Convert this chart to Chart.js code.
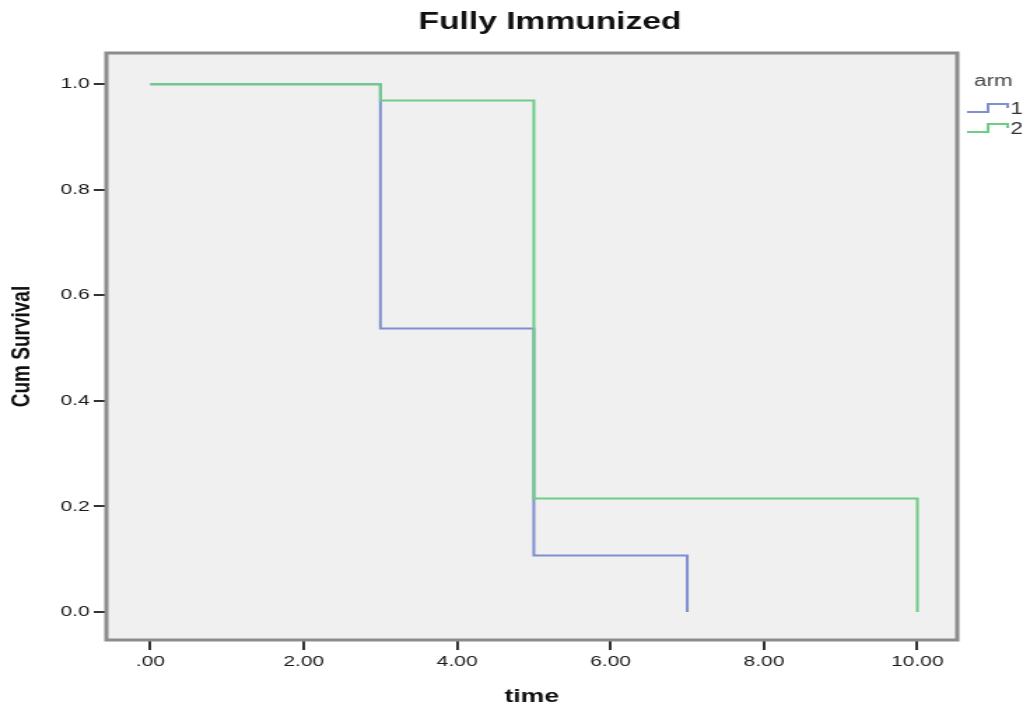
<!DOCTYPE html>
<html>
<head>
<meta charset="utf-8">
<script src="https://cdn.jsdelivr.net/npm/chart.js@4"></script>
<style>
  html, body { margin: 0; padding: 0; background: #fff; }
  /* the source picture is stretched sideways, so draw narrow and stretch */
  #canvas { display: block; width: 1030px; height: 710px; }
</style>
</head>
<body>
<canvas id="canvas" width="736" height="710" style="width:1030px;height:710px"></canvas>
<script>
const arm1Time = [0, 3, 5, 7];
const arm1Surv = [1.0, 0.537, 0.107, 0.0];
const arm2Time = [0, 3, 5, 10];
const arm2Surv = [1.0, 0.969, 0.215, 0.0];
const xTicks = [0, 2, 4, 6, 8, 10];
const yTicks = [0, 0.2, 0.4, 0.6, 0.8, 1.0];
const armNames = ['1', '2'];

const blue = '#7f8fcf';
const green = '#6dcc85';
const font = '"Liberation Sans", Arial, sans-serif';

const canvas = document.getElementById('canvas');
const ctx = canvas.getContext('2d');

const frame = {
    id: 'frame',
    beforeDatasetsDraw(chart) {
        const a = chart.chartArea;
        const c = chart.ctx;
        c.save();
        c.fillStyle = '#f0f0f0';
        c.fillRect(a.left, a.top, a.right - a.left, a.bottom - a.top);
        c.restore();
    },
    afterDraw(chart) {
        const a = chart.chartArea;
        const c = chart.ctx;
        c.save();
        c.strokeStyle = '#8c8c8c';
        c.lineWidth = 3;
        c.strokeRect(a.left, a.top, a.right - a.left, a.bottom - a.top);

        // title
        c.fillStyle = '#111';
        c.font = 'bold 24px ' + font;
        c.textAlign = 'center';
        c.textBaseline = 'alphabetic';
        c.fillText('Fully Immunized', 393, 29);

        // legend
        c.font = '16px ' + font;
        c.fillStyle = '#444';
        c.textAlign = 'left';
        c.fillText('arm', 696, 86);
        [blue, green].forEach((col, i) => {
            const y = 108 + i * 20;
            c.strokeStyle = col;
            c.lineWidth = 2;
            c.beginPath();
            c.moveTo(691, y + 4);
            c.lineTo(706, y + 4);
            c.lineTo(706, y - 4);
            c.lineTo(720, y - 4);
            c.lineTo(720, y);
            c.stroke();
            c.fillStyle = '#333';
            c.fillText(armNames[i], 722, y + 6);
        });
        c.restore();
    }
};

function steps(xs, ys) {
    return xs.map((x, i) => ({x: x, y: ys[i]}));
}

new Chart(ctx, {
    type: 'line',
    data: {
        datasets: [
            {
                label: armNames[0],
                data: steps(arm1Time, arm1Surv),
                borderColor: blue,
                borderWidth: 2,
                stepped: true,
                pointRadius: 0,
                fill: false,
                order: 1
            },
            {
                label: armNames[1],
                data: steps(arm2Time, arm2Surv),
                borderColor: green,
                borderWidth: 2,
                stepped: true,
                pointRadius: 0,
                fill: false,
                order: 0
            }
        ]
    },
    options: {
        responsive: false,
        devicePixelRatio: 1,
        animation: false,
        layout: { padding: { top: 53, right: 52, left: 0, bottom: 0 } },
        plugins: {
            legend: { display: false },
            tooltip: { enabled: false },
            title: { display: false }
        },
        scales: {
            x: {
                type: 'linear',
                min: -0.573,
                max: 10.52,
                afterBuildTicks: s => { s.ticks = xTicks.map(v => ({value: v})); },
                afterFit: s => { s.height = 70; },
                border: { display: false },
                grid: { drawOnChartArea: false, drawTicks: true, tickLength: 10, color: '#333', lineWidth: 2 },
                ticks: {
                    padding: 3,
                    color: '#1a1a1a',
                    font: { family: font, size: 15 },
                    maxRotation: 0,
                    callback: v => v === 0 ? '.00' : v.toFixed(2)
                },
                title: {
                    display: true,
                    text: 'time',
                    color: '#111',
                    font: { family: font, size: 19, weight: 'bold' },
                    padding: { top: 0, bottom: 2 }
                }
            },
            y: {
                type: 'linear',
                min: -0.053,
                max: 1.059,
                afterBuildTicks: s => { s.ticks = yTicks.map(v => ({value: v})); },
                afterFit: s => { s.width = 76; },
                border: { display: false },
                grid: { drawOnChartArea: false, drawTicks: true, tickLength: 9, color: '#333', lineWidth: 2 },
                ticks: {
                    padding: 3,
                    color: '#1a1a1a',
                    font: { family: font, size: 15 },
                    callback: v => v.toFixed(1)
                },
                title: {
                    display: true,
                    text: 'Cum Survival',
                    color: '#111',
                    font: { family: font, size: 19, weight: 'bold' },
                    padding: { top: 4, bottom: 0 }
                }
            }
        }
    },
    plugins: [frame]
});
</script>
</body>
</html>
